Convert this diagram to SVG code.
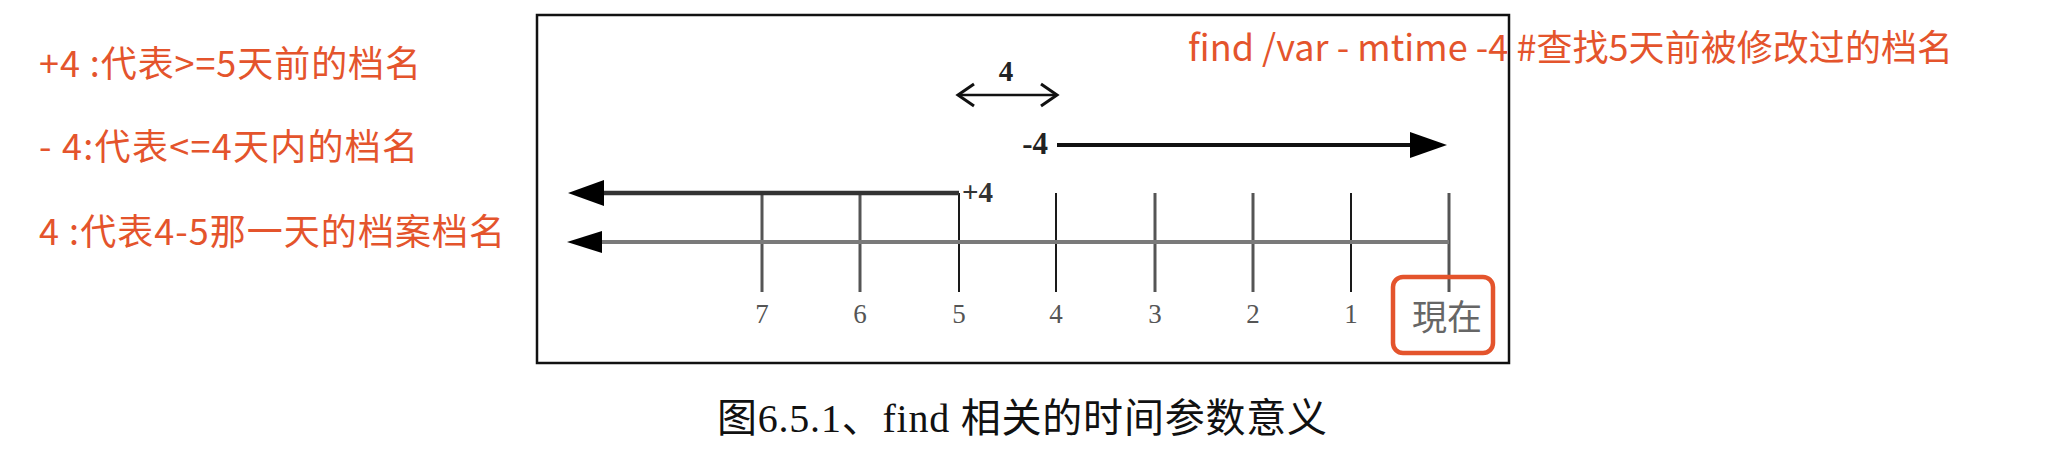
<svg xmlns="http://www.w3.org/2000/svg" width="2046" height="458" viewBox="0 0 2046 458">
<style>
.note{font-family:"Noto Sans CJK SC","Noto Sans",sans-serif;font-size:36px;fill:#E4542C}
.num{font-family:"Liberation Serif","Noto Sans CJK SC",serif;font-size:27px;fill:#555;text-anchor:middle}
.lbl{font-family:"Liberation Serif",serif;font-weight:bold;fill:#222}
.tickA{stroke:#555;stroke-width:3}
.tickB{stroke:#1a1a1a;stroke-width:2}
.cap{font-family:"Liberation Serif","Noto Sans CJK SC",serif;font-size:40px;fill:#111}
</style>
<rect width="2046" height="458" fill="#fff"/>
<g id="legend">
<text class="note" x="39" y="77" textLength="382">+4 :代表&gt;=5天前的档名</text>
<text class="note" x="39" y="160" textLength="379">- 4:代表&lt;=4天内的档名</text>
<text class="note" x="39" y="245" textLength="466">4 :代表4-5那一天的档案档名</text>
</g>
<g id="frame">
<rect x="537" y="15" width="972" height="348" fill="none" stroke="#111" stroke-width="2.5"/>
</g>
<g id="ticks">
<line class="tickA" x1="762" y1="193" x2="762" y2="292"/>
<line class="tickA" x1="860" y1="193" x2="860" y2="292"/>
<line class="tickB" x1="959" y1="193" x2="959" y2="292"/>
<line class="tickB" x1="1056" y1="193" x2="1056" y2="292"/>
<line class="tickA" x1="1155" y1="193" x2="1155" y2="292"/>
<line class="tickA" x1="1253" y1="193" x2="1253" y2="292"/>
<line class="tickB" x1="1351" y1="193" x2="1351" y2="292"/>
<line class="tickA" x1="1449" y1="193" x2="1449" y2="292"/>
</g>
<g id="connectors">
<line x1="600" y1="193" x2="959" y2="193" stroke="#333" stroke-width="4.5"/>
<polygon points="568,193 604,180 604,206" fill="#000"/>
<line x1="598" y1="242" x2="1449" y2="242" stroke="#7a7a7a" stroke-width="4"/>
<polygon points="567,242 602,231 602,253" fill="#000"/>
<line x1="1057" y1="145" x2="1412" y2="145" stroke="#111" stroke-width="4"/>
<polygon points="1447,145 1410,132 1410,158" fill="#000"/>
<line x1="959" y1="95" x2="1056" y2="95" stroke="#111" stroke-width="2.5"/>
<polyline points="974,84 958,95 974,106" fill="none" stroke="#111" stroke-width="3"/>
<polyline points="1041,84 1057,95 1041,106" fill="none" stroke="#111" stroke-width="3"/>
</g>
<g id="labels">
<text class="lbl" x="1006" y="81" font-size="29" text-anchor="middle">4</text>
<text class="lbl" x="1048" y="154" font-size="31" text-anchor="end">-4</text>
<text x="962" y="202" font-family="Liberation Serif,serif" font-weight="bold" font-size="29" fill="#333">+4</text>
<text class="num" x="762" y="323">7</text>
<text class="num" x="860" y="323">6</text>
<text class="num" x="959" y="323">5</text>
<text class="num" x="1056" y="323">4</text>
<text class="num" x="1155" y="323">3</text>
<text class="num" x="1253" y="323">2</text>
<text class="num" x="1351" y="323">1</text>
<text x="1447" y="330" font-family="Liberation Serif,'Noto Sans CJK TC',serif" font-size="35" fill="#666" text-anchor="middle">現在</text>
</g>
<g id="now-highlight">
<rect x="1393" y="277" width="100" height="76" rx="10" fill="none" stroke="#E4542C" stroke-width="4.5"/>
</g>
<g id="command">
<text class="note" x="1188" y="61" textLength="765">find /var - mtime -4 #查找5天前被修改过的档名</text>
</g>
<g id="caption">
<text class="cap" x="717" y="432" textLength="610">图6.5.1、find 相关的时间参数意义</text>
</g>
</svg>
